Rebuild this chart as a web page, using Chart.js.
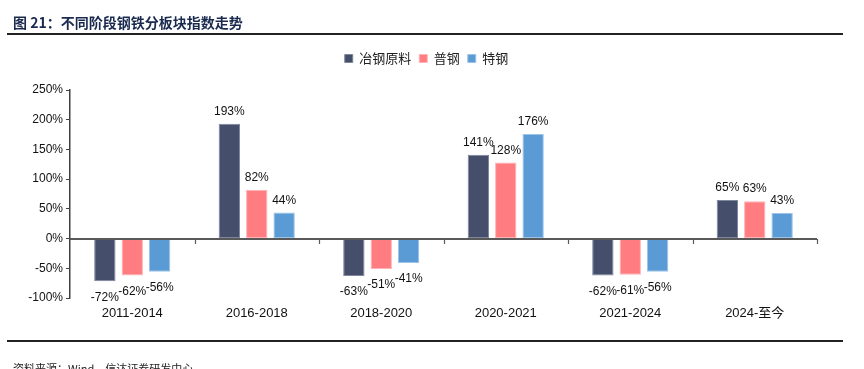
<!DOCTYPE html>
<html>
<head>
<meta charset="utf-8">
<script src="https://cdn.jsdelivr.net/npm/chart.js@4.4.1/dist/chart.umd.min.js"></script>
<style>
  html, body { margin: 0; padding: 0; background: #fff; }
  #wrap { position: relative; width: 864px; height: 369px; overflow: hidden; }
  #title { position: absolute; left: 13px; top: 14px; font: bold 14px "Noto Sans CJK SC", sans-serif; color: #1A2A4F; line-height: 16px; white-space: nowrap; }
  .rule { position: absolute; left: 7px; width: 836px; height: 2px; background: #222; }
  #source { position: absolute; left: 13px; top: 361px; font: 11px "Noto Sans CJK SC", sans-serif; color: #222; white-space: nowrap; line-height: 14px; }
  #c { position: absolute; left: 0; top: 0; }
</style>
</head>
<body>
<div id="wrap">
  <canvas id="c" width="864" height="369"></canvas>
  <div id="title">图 21：不同阶段钢铁分板块指数走势</div>
  <div class="rule" style="top:33px"></div>
  <div class="rule" style="top:340px"></div>
  <div id="source">资料来源：Wind，信达证券研发中心</div>
</div>
<script>
const categories = ['2011-2014', '2016-2018', '2018-2020', '2020-2021', '2021-2024', '2024-至今'];
const seriesNames = ['冶钢原料', '普钢', '特钢'];
const rawMaterials = [-72, 193, -63, 141, -62, 65];
const ordinarySteel = [-62, 82, -51, 128, -61, 63];
const specialSteel = [-56, 44, -41, 176, -56, 43];
const yTicks = [-100, -50, 0, 50, 100, 150, 200, 250];

const colors = ['#454F6C', '#FF7C80', '#5B9BD5'];
const borders = ['#7E879C', '#FFB3B5', '#9CC3E8'];

const legendTweak = {
  id: 'legendTweak',
  beforeInit(chart) {
    const orig = chart.legend.fit;
    chart.legend.fit = function () { orig.call(this); this.height += 15; };
  },
  afterLayout(chart) {
    chart.legend.left += 18;
    chart.legend.right += 18;
  }
};

const valueLabels = {
  id: 'valueLabels',
  afterDatasetsDraw(chart) {
    const ctx = chart.ctx;
    ctx.save();
    ctx.font = '12px "Liberation Sans", Arial, sans-serif';
    ctx.fillStyle = '#111';
    ctx.textAlign = 'center';
    chart.data.datasets.forEach((ds, di) => {
      const meta = chart.getDatasetMeta(di);
      meta.data.forEach((bar, i) => {
        const v = ds.data[i];
        if (v >= 0) {
          ctx.textBaseline = 'bottom';
          ctx.fillText(v + '%', bar.x, bar.y - 6);
        } else {
          ctx.textBaseline = 'top';
          ctx.fillText(v + '%', bar.x, bar.y + 10);
        }
      });
    });
    ctx.restore();
  }
};

const zeroAxis = {
  id: 'zeroAxis',
  afterDatasetsDraw(chart) {
    const ctx = chart.ctx;
    const x = chart.scales.x, y = chart.scales.y;
    const y0 = Math.round(y.getPixelForValue(0));
    const area = chart.chartArea;
    ctx.save();
    ctx.strokeStyle = '#595959';
    ctx.lineWidth = 2;
    ctx.beginPath();
    ctx.moveTo(area.left, y0);
    ctx.lineTo(area.right, y0);
    ctx.stroke();
    ctx.lineWidth = 1.2;
    const n = categories.length;
    const step = (area.right - area.left) / n;
    for (let i = 1; i <= n; i++) {
      const px = Math.round(x.getPixelForValue(i - 1) + step / 2) + 0.5;
      ctx.beginPath();
      ctx.moveTo(px, y0);
      ctx.lineTo(px, y0 + 5);
      ctx.stroke();
    }
    ctx.restore();
  }
};

new Chart(document.getElementById('c'), {
  type: 'bar',
  data: {
    labels: categories,
    datasets: [rawMaterials, ordinarySteel, specialSteel].map((d, i) => ({
      label: seriesNames[i],
      data: d,
      backgroundColor: colors[i],
      borderColor: borders[i],
      borderWidth: 1,
      borderSkipped: false,
      categoryPercentage: 0.66,
      barPercentage: 0.78
    }))
  },
  options: {
    responsive: false,
    animation: false,
    devicePixelRatio: 1,
    layout: { padding: { top: 44, left: 0, right: 47, bottom: 41 } },
    plugins: {
      legend: {
        display: true,
        position: 'top',
        labels: {
          boxWidth: 8, boxHeight: 8, padding: 8,
          color: '#222',
          font: { size: 13, family: '"Noto Sans CJK SC", sans-serif' }
        }
      },
      tooltip: { enabled: false }
    },
    scales: {
      x: {
        grid: { display: false },
        border: { display: false },
        ticks: { color: '#111', padding: 0, font: { size: 13, family: '"Liberation Sans", "Noto Sans CJK SC", sans-serif' } },
        afterFit(s) { s.height = 30; }
      },
      y: {
        min: -100, max: 250,
        afterBuildTicks(s) { s.ticks = yTicks.map(v => ({ value: v })); },
        grid: { drawOnChartArea: false, drawTicks: true, tickLength: 4, tickColor: '#404040' },
        border: { display: true, color: '#404040', width: 1.5 },
        ticks: {
          color: '#111', padding: 3,
          font: { size: 12, family: '"Liberation Sans", Arial, sans-serif' },
          callback: v => v + '%'
        },
        afterFit(s) { s.width = 70; }
      }
    }
  },
  plugins: [legendTweak, valueLabels, zeroAxis]
});
</script>
</body>
</html>
